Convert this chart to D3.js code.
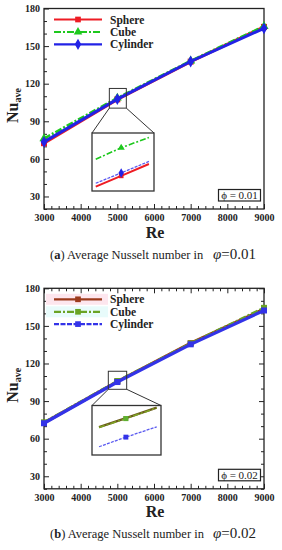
<!DOCTYPE html>
<html>
<head>
<meta charset="utf-8">
<script src="https://cdn.jsdelivr.net/npm/d3@7"></script>
<style>
    body { margin: 0; background: #fff; }
    svg { display: block; }
</style>
</head>
<body>
<div id="chart"></div>
<script>
// ---- data ----
const reValues = [3000, 5000, 7000, 9000];
const seriesNames = ['Sphere', 'Cube', 'Cylinder'];
const xTicks = [3000, 4000, 5000, 6000, 7000, 8000, 9000];
const yTicks = [30, 60, 90, 120, 150, 180];

// phi = 0.01
const sphereA = [72.5, 107.5, 137.6, 165.3];
const cubeA = [76.2, 108.6, 138.2, 165.8];
const cylinderA = [73.6, 107.7, 137.7, 164.2];

// phi = 0.02
const sphereB = [72.6, 105.6, 136.2, 163.4];
const cubeB = [73.0, 106.0, 136.0, 164.4];
const cylinderB = [72.3, 105.2, 135.3, 162.3];

// zoomed-in windows around Re = 5000
const insetReA = [4810, 5000, 5207];
const insetSphereA = [101.7, 104.6, 107.8];
const insetCubeA = [109.1, 112.2, 115.0];
const insetCylinderA = [102.6, 105.4, 108.5];

const insetReB = [4805, 5000, 5224];
const insetSphereB = [107.5, 110.1, 113.2];
const insetCubeB = [107.4, 110.0, 113.1];
const insetCylinderB = [101.8, 104.6, 107.6];

const phiLabels = ['0.01', '0.02'];
const panelLetters = ['a', 'b'];

const width = 282, height = 550;
const plotLeft = 44, plotRight = 264, plotH = 200.5;
const serif = "'Liberation Serif', 'Times New Roman', 'DejaVu Serif', serif";

const svg = d3.select('#chart')
    .append('svg')
    .attr('width', width)
    .attr('height', height);

const xScale = d3.scaleLinear().domain([3000, 9000]).range([plotLeft, plotRight]);
const yScale = d3.scaleLinear().domain([20, 180]).range([plotH, 0]);

function zip(res, vals) {
    return res.map((r, i) => ({ re: r, v: vals[i] }));
}

function drawPanel(p) {
    const g = svg.append('g').attr('transform', 'translate(0,' + p.top + ')');

    // frame
    g.append('rect')
        .attr('x', plotLeft).attr('y', 0)
        .attr('width', plotRight - plotLeft).attr('height', plotH)
        .attr('fill', 'none').attr('stroke', '#222').attr('stroke-width', 1.3);

    // axes (ticks point inward)
    const xMinor = d3.range(3000, 9001, 200).filter(v => v % 1000 !== 0);
    const yMinor = d3.range(20, 181, 10).filter(v => v % 30 !== 0);

    const bottom = g.append('g').attr('transform', 'translate(0,' + plotH + ')');
    bottom.call(d3.axisBottom(xScale).tickValues(xTicks).tickFormat(d3.format('d'))
        .tickSizeInner(-5).tickSizeOuter(0).tickPadding(5));
    bottom.append('g').call(d3.axisBottom(xScale).tickValues(xMinor).tickSizeInner(-3).tickSizeOuter(0).tickFormat(''));

    const left = g.append('g').attr('transform', 'translate(' + plotLeft + ',0)');
    left.call(d3.axisLeft(yScale).tickValues(yTicks).tickFormat(d3.format('d'))
        .tickSizeInner(-5).tickSizeOuter(0).tickPadding(4));
    left.append('g').call(d3.axisLeft(yScale).tickValues(yMinor).tickSizeInner(-3).tickSizeOuter(0).tickFormat(''));

    if (p.mirror) {
        const top = g.append('g');
        top.call(d3.axisTop(xScale).tickValues(xTicks).tickSizeInner(-5).tickSizeOuter(0).tickFormat(''));
        top.append('g').call(d3.axisTop(xScale).tickValues(xMinor).tickSizeInner(-3).tickSizeOuter(0).tickFormat(''));
        const right = g.append('g').attr('transform', 'translate(' + plotRight + ',0)');
        right.call(d3.axisRight(yScale).tickValues(yTicks).tickSizeInner(-5).tickSizeOuter(0).tickFormat(''));
        right.append('g').call(d3.axisRight(yScale).tickValues(yMinor).tickSizeInner(-3).tickSizeOuter(0).tickFormat(''));
    }

    g.selectAll('.domain').remove();
    g.selectAll('.tick line').attr('stroke', '#222').attr('stroke-width', 1);
    g.selectAll('.tick text')
        .attr('font-family', serif)
        .attr('font-weight', 'bold')
        .attr('font-size', 10)
        .attr('fill', '#222');

    // axis titles
    g.append('text')
        .attr('x', 155).attr('y', 229)
        .attr('text-anchor', 'middle')
        .attr('font-family', serif).attr('font-weight', 'bold').attr('font-size', 16)
        .attr('fill', '#222')
        .text('Re');

    const yt = g.append('text')
        .attr('transform', 'translate(18,' + 97 + ') rotate(-90)')
        .attr('text-anchor', 'middle')
        .attr('font-family', serif).attr('font-weight', 'bold').attr('font-size', 16)
        .attr('fill', '#222');
    yt.append('tspan').text('Nu');
    yt.append('tspan').attr('font-size', 10).attr('dy', 3).text('ave');

    // main series
    const line = d3.line().x(d => xScale(d.re)).y(d => yScale(d.v));
    p.series.forEach((s, i) => {
        const pts = zip(reValues, s.values);
        g.append('path')
            .datum(pts)
            .attr('d', line)
            .attr('fill', 'none')
            .attr('stroke', s.color)
            .attr('stroke-width', s.width)
            .attr('stroke-dasharray', s.dash || null);
        g.selectAll('.m' + i)
            .data(pts)
            .enter()
            .append('path')
            .attr('transform', d => 'translate(' + xScale(d.re) + ',' + yScale(d.v) + ')')
            .attr('d', d3.symbol().type(s.symbol).size(s.size))
            .attr('fill', s.color);
    });

    // legend
    const legRows = [11, 23.5, 35.8];
    if (p.legendBg) {
        p.legendBg.forEach((c, i) => {
            g.append('rect')
                .attr('x', 46).attr('y', legRows[i] - 5.5)
                .attr('width', 62).attr('height', 11)
                .attr('fill', c);
        });
    }
    p.series.forEach((s, i) => {
        const ly = legRows[i];
        g.append('line')
            .attr('x1', 54).attr('x2', 102).attr('y1', ly).attr('y2', ly)
            .attr('stroke', s.color).attr('stroke-width', 2.2)
            .attr('stroke-dasharray', s.legendDash || s.dash || null);
        g.append('path')
            .attr('transform', 'translate(78,' + ly + ')')
            .attr('d', d3.symbol().type(s.symbol).size(s.size * 0.9))
            .attr('fill', s.color);
        g.append('text')
            .attr('x', 110).attr('y', ly + 4)
            .attr('font-family', serif).attr('font-weight', 'bold').attr('font-size', 11.5)
            .attr('fill', '#222')
            .text(seriesNames[i]);
    });

    // zoom window + inset
    const ix0 = xScale(p.insetX[0]), ix1 = xScale(p.insetX[1]);
    const iy0 = yScale(p.insetY[1]), iy1 = yScale(p.insetY[0]);
    const box = p.insetBox;
    g.append('rect')
        .attr('x', ix0).attr('y', iy0)
        .attr('width', ix1 - ix0).attr('height', iy1 - iy0)
        .attr('fill', 'none').attr('stroke', '#333').attr('stroke-width', 1);
    g.append('line')
        .attr('x1', ix0).attr('y1', iy1).attr('x2', box.x0).attr('y2', box.y0)
        .attr('stroke', '#333').attr('stroke-width', 1);
    g.append('line')
        .attr('x1', ix1).attr('y1', iy1).attr('x2', box.x1).attr('y2', box.y0)
        .attr('stroke', '#333').attr('stroke-width', 1);
    g.append('rect')
        .attr('x', box.x0).attr('y', box.y0)
        .attr('width', box.x1 - box.x0).attr('height', box.y1 - box.y0)
        .attr('fill', '#fff').attr('stroke', '#333').attr('stroke-width', 1.3);

    const insX = d3.scaleLinear().domain(p.insetX).range([box.x0, box.x1]);
    const insY = d3.scaleLinear().domain(p.insetY).range([box.y1, box.y0]);
    const insLine = d3.line().x(d => insX(d.re)).y(d => insY(d.v));
    p.inset.forEach((s, i) => {
        const pts = zip(p.insetRe, s.values);
        g.append('path')
            .datum(pts)
            .attr('d', insLine)
            .attr('fill', 'none')
            .attr('stroke', s.color)
            .attr('stroke-width', s.width)
            .attr('stroke-dasharray', s.dash || null);
        g.selectAll('.im' + i)
            .data(pts.filter(d => d.re === 5000))
            .enter()
            .append('path')
            .attr('transform', d => 'translate(' + insX(d.re) + ',' + insY(d.v) + ')')
            .attr('d', d3.symbol().type(s.symbol).size(s.size))
            .attr('fill', s.markColor || s.color);
    });

    // phi label box
    g.append('rect')
        .attr('x', 218.5).attr('y', 181)
        .attr('width', 42).attr('height', 11.5)
        .attr('fill', '#fff').attr('stroke', '#222').attr('stroke-width', 1.2);
    g.append('text')
        .attr('x', 239.5).attr('y', 190.5)
        .attr('text-anchor', 'middle')
        .attr('font-family', serif).attr('font-size', 11)
        .attr('fill', '#222')
        .text('\u03d5 = ' + p.phi);

    // caption
    const cap = g.append('text')
        .attr('x', 50).attr('y', p.captionY)
        .attr('font-family', serif).attr('font-size', 12.5)
        .attr('fill', '#222');
    cap.append('tspan').text('(');
    cap.append('tspan').attr('font-weight', 'bold').text(p.letter);
    cap.append('tspan').text(') Average Nusselt number in');
    const cap2 = g.append('text')
        .attr('x', 213).attr('y', p.captionY)
        .attr('font-family', serif).attr('font-size', 15)
        .attr('fill', '#222');
    cap2.append('tspan').attr('font-style', 'italic').text('\u03c6');
    cap2.append('tspan').text('=' + p.phi);
}

drawPanel({
    top: 8.5,
    mirror: false,
    letter: panelLetters[0],
    phi: phiLabels[0],
    captionY: 250,
    series: [
        { values: sphereA, color: '#ee1c24', width: 3, symbol: d3.symbolSquare, size: 36 },
        { values: cubeA, color: '#1ec81e', width: 2.6, dash: '7,2,2,2', symbol: d3.symbolTriangle, size: 36 },
        { values: cylinderA, color: '#2222e6', width: 3, symbol: d3.symbolDiamond, size: 40 }
    ],
    insetX: [4782, 5245],
    insetY: [100.5, 116.2],
    insetBox: { x0: 92, x1: 154, y0: 124.5, y1: 182.5 },
    insetRe: insetReA,
    inset: [
        { values: insetSphereA, color: '#ee1c24', width: 2, symbol: d3.symbolSquare, size: 22 },
        { values: insetCubeA, color: '#1ec81e', width: 1.6, dash: '6,2,2,2', symbol: d3.symbolTriangle, size: 22 },
        { values: insetCylinderA, color: '#5a5af0', width: 1.3, dash: '3,1.2', symbol: d3.symbolDiamond, size: 26, markColor: '#2222e6' }
    ]
});

drawPanel({
    top: 288.3,
    mirror: true,
    letter: panelLetters[1],
    phi: phiLabels[1],
    captionY: 250,
    legendBg: ['#fde6ee', '#e8fbfb'],
    series: [
        { values: sphereB, color: '#9c3a1c', width: 3, symbol: d3.symbolSquare, size: 36 },
        { values: cubeB, color: '#6aa324', width: 2.6, dash: '7,2,2,2', symbol: d3.symbolSquare, size: 36 },
        { values: cylinderB, color: '#3333e8', width: 3.2, legendDash: '5,1.5', symbol: d3.symbolSquare, size: 36 }
    ],
    insetX: [4754, 5255],
    insetY: [99.4, 113.8],
    insetBox: { x0: 92, x1: 161, y0: 117.2, y1: 166.7 },
    insetRe: insetReB,
    inset: [
        { values: insetSphereB, color: '#6b5a1c', width: 2.4, symbol: d3.symbolSquare, size: 20 },
        { values: insetCubeB, color: '#7ea424', width: 1.6, dash: '6,2,2,2', symbol: d3.symbolSquare, size: 26, markColor: '#5fb030' },
        { values: insetCylinderB, color: '#5a5af0', width: 1.3, dash: '3,1.2', symbol: d3.symbolSquare, size: 24, markColor: '#3333e8' }
    ]
});
</script>
</body>
</html>
